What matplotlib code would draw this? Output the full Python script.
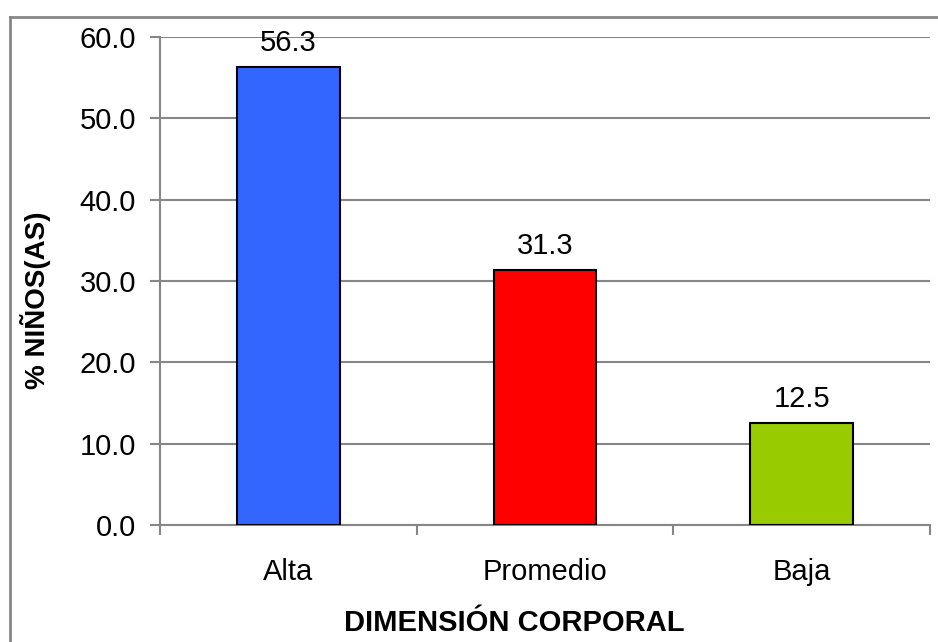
import matplotlib.pyplot as plt
from matplotlib.lines import Line2D

plt.rcParams['font.family'] = ['Liberation Sans', 'DejaVu Sans']

categories = ['Alta', 'Promedio', 'Baja']
values = [56.3, 31.3, 12.5]
colors = ['#3366FF', '#FF0000', '#99CC00']
yticks = [0, 10, 20, 30, 40, 50, 60]

W, H = 938, 642
fig = plt.figure(figsize=(W / 100, H / 100), dpi=100)
ax = fig.add_axes([160 / W, (H - 525) / H, (930 - 160) / W, (525 - 37) / H])

grid_c = '#868686'
fs = 21
x = list(range(len(categories)))
bars = ax.bar(x, values, width=0.4, color=colors, edgecolor='black', linewidth=1.5, zorder=3)
for b, v in zip(bars, values):
    ax.text(b.get_x() + b.get_width() / 2, v + 1.3, f'{v:.1f}',
            ha='center', va='bottom', fontsize=fs)

ax.set_xlim(-0.5, 2.5)
ax.set_ylim(0, 60)
ax.set_yticks(yticks)
ax.set_yticklabels([f'{t:.1f}' for t in yticks], fontsize=fs)
ax.yaxis.grid(True, color=grid_c, linewidth=1.5, zorder=0)
ax.set_axisbelow(True)

# category ticks between bars
ax.set_xticks([-0.5, 0.5, 1.5, 2.5])
ax.set_xticklabels([])
ax.set_xticks(x, minor=True)
ax.set_xticklabels(categories, minor=True, fontsize=fs)
ax.tick_params(axis='x', which='minor', length=0, pad=24)
ax.tick_params(axis='x', which='major', length=7.2, width=1.5, color=grid_c)
ax.tick_params(axis='y', length=7.2, width=1.5, color=grid_c, pad=10)

for s in ['top', 'right']:
    ax.spines[s].set_visible(False)
for s in ['left', 'bottom']:
    ax.spines[s].set_color(grid_c)
    ax.spines[s].set_linewidth(1.5)

ax.set_xlabel('DIMENSIÓN CORPORAL', fontsize=fs, fontweight='bold')
ax.set_ylabel('% NIÑOS(AS)', fontsize=20, fontweight='bold')
ax.xaxis.set_label_coords(0.46, -0.172)
ax.yaxis.set_label_coords(-0.142, 0.461)

# outer chart border (top and left visible)
fig.add_artist(Line2D([10 / W, 1], [1 - 17 / H, 1 - 17 / H], color=grid_c, lw=2, transform=fig.transFigure))
fig.add_artist(Line2D([10 / W, 10 / W], [0, 1 - 17 / H], color=grid_c, lw=2, transform=fig.transFigure))

fig.savefig('out.png', dpi=100)
